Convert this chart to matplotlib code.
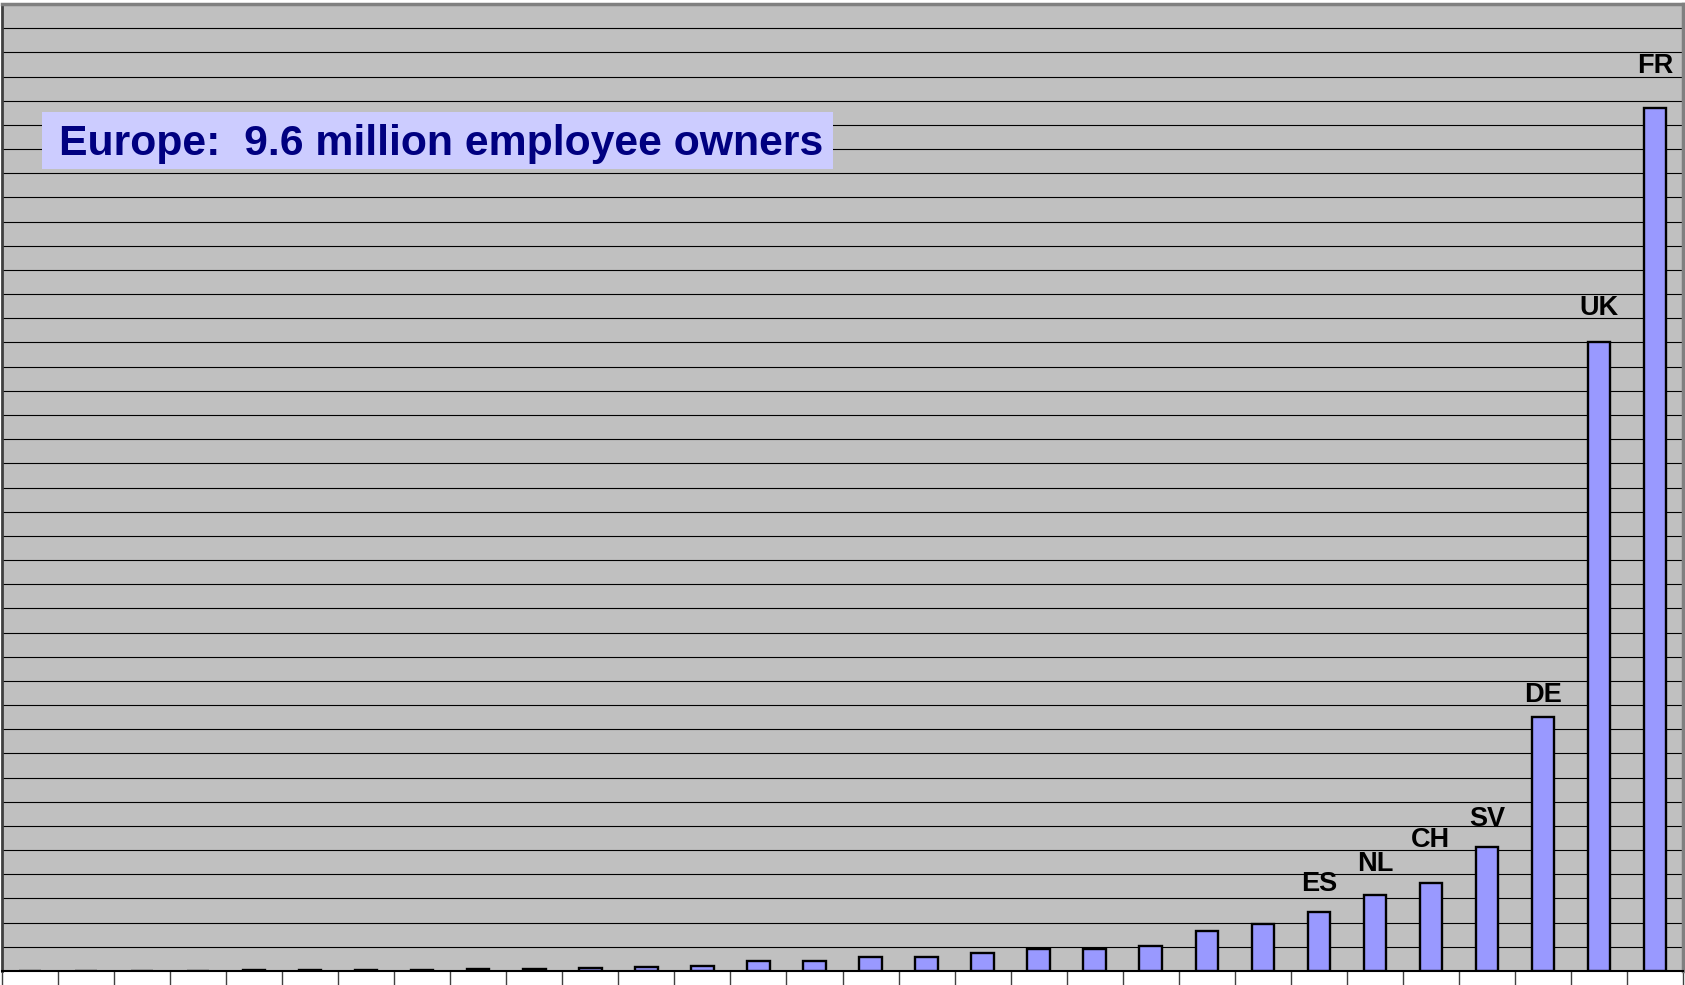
import matplotlib
matplotlib.use('Agg')
import matplotlib.pyplot as plt
from matplotlib.patches import Rectangle
import numpy as np

# -------------------- DATA --------------------
# employee owners per country, thousands (sorted, 30 countries)
values = [0, 0, 0, 0, 3, 3, 3, 3, 8, 10,
          11, 15, 19, 40, 43, 57, 58, 74, 93, 93,
          104, 167, 193, 242, 315, 364, 512, 1050, 2600, 3570]
labels = ['', '', '', '', '', '', '', '', '', '',
          '', '', '', '', '', '', '', '', '', '',
          '', '', '', 'ES', 'NL', 'CH', 'SV', 'DE', 'UK', 'FR']
# distance of the country label above its bar, pixels
label_gap = {'ES': 21, 'NL': 24, 'CH': 36, 'SV': 21, 'DE': 15, 'UK': 27, 'FR': 35}
title = "Europe:  9.6 million employee owners"

# -------------------- FIGURE --------------------
W, H = 1685, 985
fig = plt.figure(figsize=(W / 100, H / 100), dpi=100)
ax = fig.add_axes([2 / W, 14 / H, 1681 / W, 967 / H])
ax.set_facecolor('#C0C0C0')

x = np.arange(len(values))
ax.bar(x, values, width=0.4, color='#9999FF', edgecolor='black',
       linewidth=1.7, zorder=3)

ax.set_xlim(-0.5, len(values) - 0.5)
ax.set_ylim(0, 4000)

# gridlines every 100k
ax.set_yticks(np.arange(100, 4000, 100))
ax.yaxis.grid(True, color='black', linewidth=0.8, zorder=1)
ax.tick_params(axis='y', left=False, labelleft=False)

# category boundary ticks
ax.set_xticks(np.arange(-0.5, len(values), 1.0))
ax.tick_params(axis='x', direction='out', length=10, width=1,
               color='#404040', labelbottom=False)

for side in ['top', 'right']:
    ax.spines[side].set_color('#808080')
    ax.spines[side].set_linewidth(2.5)
ax.spines['left'].set_color('#404040')
ax.spines['left'].set_linewidth(2)
ax.spines['bottom'].set_color('black')
ax.spines['bottom'].set_linewidth(1.5)

# country labels
for xi, v, lab in zip(x, values, labels):
    if lab:
        ax.annotate(lab, (xi, v), xytext=(0, label_gap[lab]),
                    textcoords='offset pixels', ha='center', va='baseline',
                    fontsize=19.5, fontweight='bold', family='Liberation Sans',
                    color='black', zorder=4)

# title box
fig.patches.append(Rectangle((42 / W, 1 - 169 / H), 791 / W, 57 / H,
                             transform=fig.transFigure, facecolor='#CCCCFF',
                             edgecolor='none', zorder=5))
fig.text(59 / W, 1 - 144 / H, title, ha='left', va='center',
         fontsize=30.8, fontweight='bold', family='Liberation Sans',
         color='#000080', zorder=6)

plt.savefig('out.png', dpi=100)
plt.close()
